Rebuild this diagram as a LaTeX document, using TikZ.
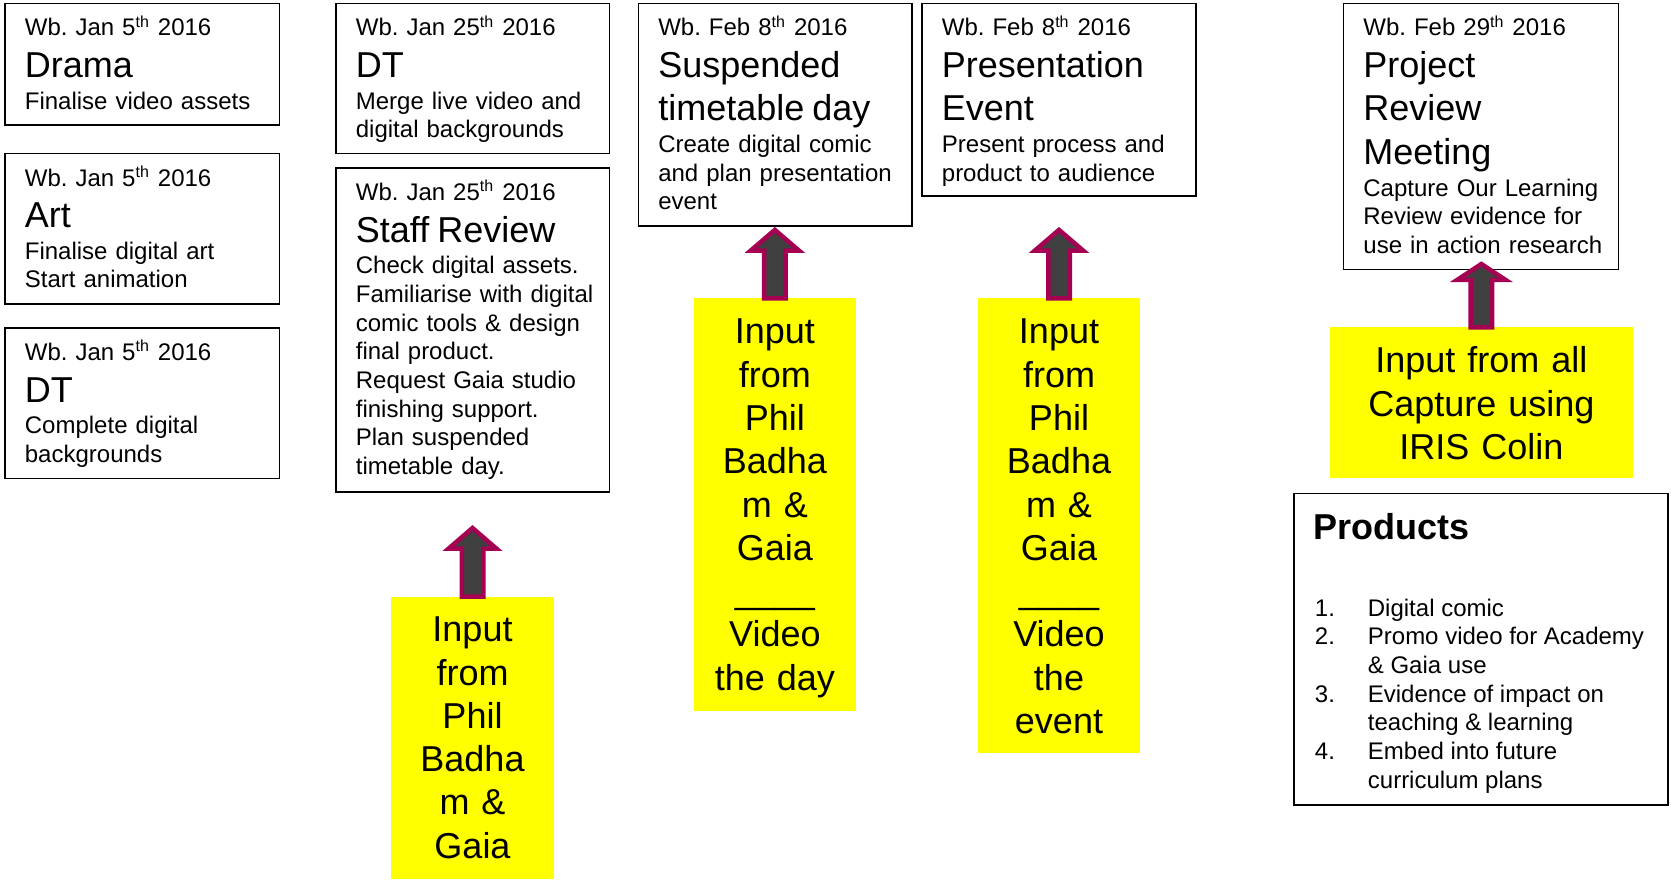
\documentclass[tikz,border=0pt]{standalone}
\usepackage{fontspec}
\setmainfont{Liberation Sans}
\usetikzlibrary{calc,fit}
\definecolor{ayellow}{RGB}{255,255,0}
\definecolor{acrimson}{RGB}{165,0,82}
\definecolor{agray}{RGB}{64,64,64}
\frenchspacing
\newcommand\datefont{\fontsize{12}{14.35}\selectfont}
\newcommand\titlefont{\fontsize{18}{21.75}\selectfont}
\newcommand\bodyfont{\fontsize{12}{14.35}\selectfont}
\newcommand\yfont{\fontsize{18}{21.65}\selectfont}
\newcommand\boxtext[3]{{\datefont #1\par}\vspace{-1pt}{\titlefont #2\par}\vspace{1.5pt}{\bodyfont #3\par}}
\newcommand\blockarrow[3]{%
  \draw[barrow] ($(#1)+(-10.75,0)$) -- ($(#2)+(-10.75,#3)$) -- ($(#2)+(-24,#3)$) -- (#2)
    -- ($(#2)+(24,#3)$) -- ($(#2)+(10.75,#3)$) -- ($(#1)+(10.75,0)$) -- cycle;}
\begin{document}
\begin{tikzpicture}[x=0.5pt,y=-0.5pt,
  wbox/.style={draw=black, line width=0.8pt, inner sep=0pt, outer sep=0pt, fill=white},
  ybox/.style={fill=ayellow, draw=none, inner sep=0pt, outer sep=0pt},
  wtext/.style={anchor=base west, inner sep=0pt, text width=130pt, align=left, font=\bodyfont},
  ytext/.style={anchor=base, inner sep=0pt, text width=#1, align=center, font=\yfont},
  barrow/.style={draw=acrimson, fill=agray, line width=2.25pt, line join=miter}]
\useasboundingbox (0,0) rectangle (1671,879);
\fill[white] (0,0) rectangle (1671,879);

% white boxes
\node[wbox, fit={(5,3.3) (279.3,125)}] (b1) {};
\node[wbox, fit={(5,153.5) (279.3,303.7)}] (b2) {};
\node[wbox, fit={(5,328) (279.3,478.5)}] (b3) {};
\node[wbox, fit={(336,3.3) (609.3,153.5)}] (b4) {};
\node[wbox, fit={(336,168) (609.3,492)}] (b5) {};
\node[wbox, fit={(638.4,3.3) (912.2,225.7)}] (b6) {};
\node[wbox, fit={(922,3.3) (1196,196)}] (b7) {};
\node[wbox, fit={(1343.5,3.3) (1618.3,269.5)}] (b8) {};
\node[wbox, fit={(1294,493.3) (1667.7,805)}] (pb) {};

% box texts
\node[wtext] (t1) at ($(b1.north west)+(19.5,32.5)$) {\boxtext{Wb. Jan 5\textsuperscript{th} 2016}{Drama}{Finalise video assets}};
\node[wtext] (t2) at ($(b2.north west)+(19.5,32.5)$) {\boxtext{Wb. Jan 5\textsuperscript{th} 2016}{Art}{Finalise digital art\\Start animation}};
\node[wtext] (t3) at ($(b3.north west)+(19.5,32.5)$) {\boxtext{Wb. Jan 5\textsuperscript{th} 2016}{DT}{Complete digital\\backgrounds}};
\node[wtext] (t4) at ($(b4.north west)+(19.5,32.5)$) {\boxtext{Wb. Jan 25\textsuperscript{th} 2016}{DT}{Merge live video and\\digital backgrounds}};
\node[wtext] (t5) at ($(b5.north west)+(19.5,32.5)$) {\boxtext{Wb. Jan 25\textsuperscript{th} 2016}{Staff Review}{Check digital assets.\\Familiarise with digital\\comic tools \& design\\final product.\\Request Gaia studio\\finishing support.\\Plan suspended\\timetable day.}};
\node[wtext] (t6) at ($(b6.north west)+(19.5,32.5)$) {\boxtext{Wb. Feb 8\textsuperscript{th} 2016}{Suspended\\timetable day}{Create digital comic\\and plan presentation\\event}};
\node[wtext] (t7) at ($(b7.north west)+(19.5,32.5)$) {\boxtext{Wb. Feb 8\textsuperscript{th} 2016}{Presentation\\Event}{Present process and\\product to audience}};
\node[wtext] (t8) at ($(b8.north west)+(19.5,32.5)$) {\boxtext{Wb. Feb 29\textsuperscript{th} 2016}{Project\\Review\\Meeting}{Capture Our Learning\\Review evidence for\\use in action research}};

% products
\node[anchor=base west, inner sep=0pt, font=\fontsize{18}{21.6}\selectfont\bfseries] (ptitle) at ($(pb.north west)+(19.5,46)$) {Products};
\node[anchor=base west, inner sep=0pt, font=\bodyfont] (plist) at ($(pb.north west)+(20.5,122.7)$) {%
\begin{tabular}[t]{@{}p{26.5pt}@{}l@{}}
1. & Digital comic\\
2. & Promo video for Academy\\
   & \& Gaia use\\
3. & Evidence of impact on\\
   & teaching \& learning\\
4. & Embed into future\\
   & curriculum plans
\end{tabular}};

% yellow boxes
\node[ybox, fit={(391,596.7) (554,879)}] (y1) {};
\node[ybox, fit={(694,298.3) (855.7,710.8)}] (y2) {};
\node[ybox, fit={(978,298.3) (1140,753.4)}] (y3) {};
\node[ybox, fit={(1330,327.3) (1632.7,477.7)}] (y4) {};

\node[ytext=80pt] (y1t) at ($(y1.north)+(0,45)$) {Input\\from\\Phil\\Badha\\m \&\\Gaia};
\node[ytext=80pt] (y2t) at ($(y2.north)+(0,45.5)$) {Input\\from\\Phil\\Badha\\m \&\\Gaia\\\_\_\_\_\\Video\\the day};
\node[ytext=80pt] (y3t) at ($(y3.north)+(0,45.5)$) {Input\\from\\Phil\\Badha\\m \&\\Gaia\\\_\_\_\_\\Video\\the\\event};
\node[ytext=150pt] (y4t) at ($(y4.north)+(0,45.5)$) {Input from all\\Capture using\\IRIS Colin};

% block arrows
\coordinate (a1) at ($(y1.north)+(0,-68.7)$);
\coordinate (a2) at ($(y2.north)+(0,-68.4)$);
\coordinate (a3) at ($(y3.north)+(0,-68.4)$);
\coordinate (a4) at ($(y4.north)+(0,-63.3)$);
\blockarrow{y1.north}{a1}{20.7}
\blockarrow{y2.north}{a2}{20.6}
\blockarrow{y3.north}{a3}{20.6}
\blockarrow{y4.north}{a4}{15.8}
\end{tikzpicture}
\end{document}
